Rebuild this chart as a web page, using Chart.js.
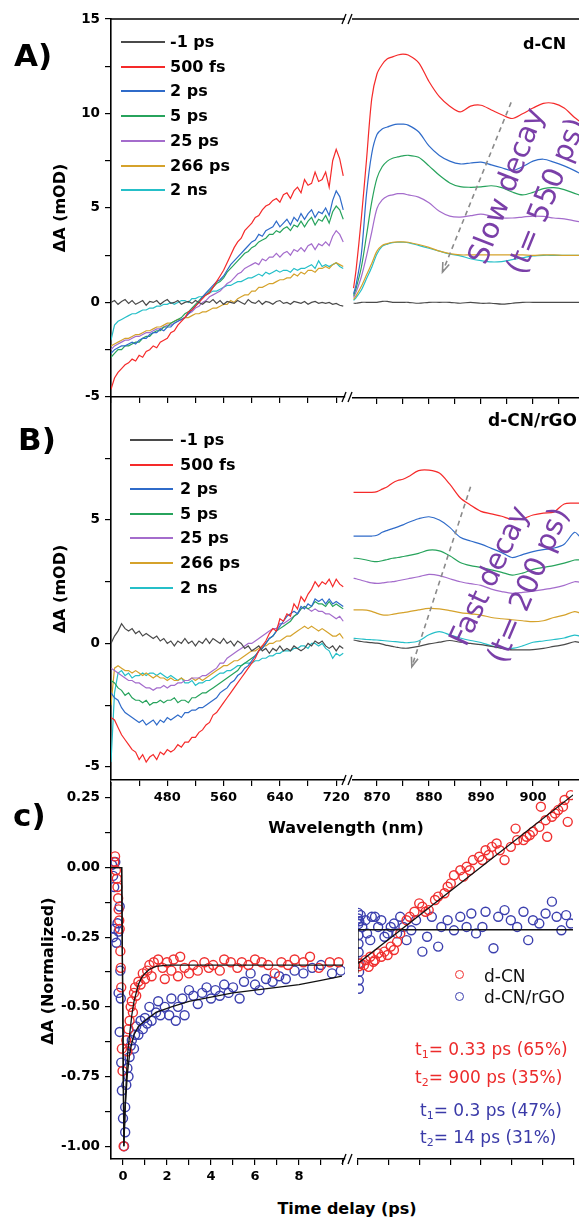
<!DOCTYPE html>
<html>
<head>
<meta charset="utf-8">
<title>Transient absorption spectra and kinetics</title>
<script src="https://cdn.jsdelivr.net/npm/chart.js@4.4.1/dist/chart.umd.min.js"></script>
<style>
  html, body { margin: 0; padding: 0; background: #fff; }
  body { position: relative; width: 579px; height: 1219px; overflow: hidden; font-family: 'DejaVu Sans', sans-serif; color: #000; }
  .pane { position: absolute; }
  .pane canvas { display: block; }
  .txt { position: absolute; white-space: nowrap; line-height: 1; }
  .bold { font-weight: bold; }
  .letter { font-size: 31px; font-weight: bold; }
  .legline { position: absolute; height: 2px; }
  .rot { position: absolute; white-space: nowrap; line-height: 1; color: #7a3fa8; font-size: 29px; }
  .mark { position: absolute; width: 7px; height: 7px; border-radius: 50%; border: 1.5px solid; }
  .note { font-size: 17px; }
  .note sub { font-size: 11px; vertical-align: -3px; line-height: 0; }
</style>
</head>
<body>
<div class="pane" style="left:0;top:0"><canvas id="aVis" width="360" height="410"></canvas></div>
<div class="pane" style="left:352px;top:0"><canvas id="aNir" width="227" height="410"></canvas></div>
<div class="pane" style="left:0;top:380px"><canvas id="bVis" width="360" height="430"></canvas></div>
<div class="pane" style="left:352px;top:380px"><canvas id="bNir" width="227" height="430"></canvas></div>
<div class="pane" style="left:0;top:770px"><canvas id="cFast" width="360" height="419"></canvas></div>
<div class="pane" style="left:352px;top:770px"><canvas id="cSlow" width="227" height="419"></canvas></div>

<div class="txt letter" style="left:14px;top:40px">A)</div>
<div class="txt letter" style="left:18px;top:424px">B)</div>
<div class="txt letter" style="left:13px;top:800px">c)</div>

<div class="txt bold" style="left:523px;top:36px;font-size:16px">d-CN</div>
<div class="txt bold" style="left:488px;top:412px;font-size:17px">d-CN/rGO</div>

<div class="rot" style="left:506px;top:186px;transform:translate(-50%,-50%) rotate(-69deg)">Slow decay</div>
<div class="rot" style="left:546px;top:196px;transform:translate(-50%,-50%) rotate(-68deg)">(t= 550 ps)</div>
<div class="rot" style="left:489px;top:576px;transform:translate(-50%,-50%) rotate(-65deg);letter-spacing:-0.5px">Fast decay</div>
<div class="rot" style="left:528px;top:585px;transform:translate(-50%,-50%) rotate(-67deg)">(t= 200 ps)</div>

<div class="txt bold" style="left:346px;top:820px;font-size:16px;transform:translateX(-50%)">Wavelength (nm)</div>
<div class="txt bold" style="left:347px;top:1201px;font-size:16px;transform:translateX(-50%)">Time delay (ps)</div>

<div class="mark" style="left:455px;top:970px;border-color:#f03030"></div>
<div class="mark" style="left:455px;top:992px;border-color:#3b3fae"></div>
<div class="txt" style="left:484px;top:968px;font-size:17px;color:#111">d-CN</div>
<div class="txt" style="left:484px;top:989px;font-size:17px;color:#111">d-CN/rGO</div>

<div class="txt note" style="left:415px;top:1041px;color:#ec2b2b">t<sub>1</sub>= 0.33 ps (65%)</div>
<div class="txt note" style="left:415px;top:1069px;color:#ec2b2b">t<sub>2</sub>= 900 ps (35%)</div>
<div class="txt note" style="left:420px;top:1102px;color:#3a3aa8">t<sub>1</sub>= 0.3 ps (47%)</div>
<div class="txt note" style="left:420px;top:1129px;color:#3a3aa8">t<sub>2</sub>= 14 ps (31%)</div>

<script>
// wavelength grids (nm) and axis labels
const WL_VIS = [400, 405, 410, 415, 420, 425, 430, 435, 440, 445, 450, 455, 460, 465, 470, 475, 480, 485, 490, 495,
    500, 505, 510, 515, 520, 525, 530, 535, 540, 545, 550, 555, 560, 565, 570, 575, 580, 585, 590, 595,
    600, 605, 610, 615, 620, 625, 630, 635, 640, 645, 650, 655, 660, 665, 670, 675, 680, 685, 690, 695,
    700, 705, 710, 715, 720, 725, 730];
const WL_NIR = [865.5, 866, 867, 868, 869, 870, 871, 872, 873, 874, 875, 876, 878, 880, 882, 884, 886, 888, 890, 892,
    894, 896, 898, 900, 902, 904, 906, 908, 909];
const WL_VIS_TICKS = [480, 560, 640, 720];
const WL_NIR_TICKS = [870, 880, 890, 900];
const TIME_FAST_TICKS = [0, 2, 4, 6, 8];
const TIME_SLOW_TICKS = [1500, 3000, 4500];
const MOD_TICKS = [-5, 0, 5, 10, 15];
const NORM_TICKS = [-1, -0.75, -0.5, -0.25, 0, 0.25];

const DELAYS = ['-1 ps', '500 fs', '2 ps', '5 ps', '25 ps', '266 ps', '2 ns'];
const DELAY_COLORS = ['#4a4a4a', '#f52a2a', '#2f6bc9', '#27a35c', '#a46ccc', '#d5a22b', '#25bfc8'];
const CN_COLOR = '#f03030';
const RGO_COLOR = '#3b3fae';

// panel A, d-CN, visible part (mOD)
const A_VIS_M1PS = [0.0, 0.1, -0.1, 0.05, 0.15, -0.05, 0.1, -0.1, 0.0, 0.1,
    -0.15, 0.05, 0.0, 0.1, -0.1, 0.05, 0.15, -0.05, 0.0, 0.1,
    -0.1, 0.0, 0.05, -0.05, 0.1, 0.0, -0.1, 0.05, 0.0, 0.15,
    -0.05, 0.1, -0.1, 0.05, 0.0, -0.05, 0.1, 0.0, -0.1, 0.15,
    0.0, -0.05, 0.1, -0.1, 0.05, 0.0, -0.1, 0.05, 0.1, -0.05,
    0.0, -0.1, 0.05, 0.0, -0.05, 0.05, -0.1, 0.0, 0.05, -0.05,
    0.0, -0.05, 0.0, -0.1, -0.05, -0.15, -0.2];
const A_VIS_500FS = [-4.6, -4.0, -3.7, -3.5, -3.3, -3.2, -3.0, -3.1, -2.8, -2.9,
    -2.6, -2.5, -2.3, -2.4, -2.1, -2.0, -1.9, -1.6, -1.5, -1.2,
    -1.0, -0.8, -0.5, -0.4, -0.2, 0.0, 0.2, 0.4, 0.5, 0.8,
    1.1, 1.4, 1.7, 2.1, 2.5, 2.9, 3.2, 3.4, 3.8, 4.0,
    4.2, 4.5, 4.6, 4.9, 5.1, 5.2, 5.4, 5.5, 5.3, 5.7,
    5.8, 5.5, 5.9, 6.1, 5.8, 6.5, 6.2, 6.3, 6.9, 6.4,
    6.5, 6.9, 6.1, 7.5, 8.1, 7.6, 6.7];
const A_VIS_2PS = [-2.7, -2.5, -2.4, -2.3, -2.3, -2.2, -2.1, -2.2, -2.0, -1.9,
    -1.9, -1.7, -1.6, -1.6, -1.4, -1.5, -1.3, -1.3, -1.1, -1.0,
    -0.9, -0.8, -0.6, -0.4, -0.2, 0.0, 0.3, 0.5, 0.7, 0.9,
    1.1, 1.2, 1.4, 1.7, 2.0, 2.2, 2.4, 2.6, 2.8, 3.0,
    3.2, 3.3, 3.6, 3.5, 3.8, 3.9, 4.0, 4.3, 4.0, 4.2,
    4.4, 4.1, 4.5, 4.3, 4.7, 4.4, 4.7, 4.9, 4.5, 4.8,
    4.7, 5.0, 4.6, 5.4, 5.9, 5.6, 4.9];
const A_VIS_5PS = [-2.9, -2.7, -2.5, -2.5, -2.3, -2.3, -2.2, -2.1, -2.1, -1.9,
    -1.8, -1.8, -1.6, -1.5, -1.5, -1.3, -1.3, -1.1, -1.0, -0.9,
    -0.8, -0.6, -0.5, -0.3, -0.1, 0.1, 0.3, 0.4, 0.6, 0.8,
    1.0, 1.1, 1.3, 1.6, 1.8, 2.0, 2.2, 2.4, 2.6, 2.7,
    2.9, 3.0, 3.2, 3.3, 3.4, 3.6, 3.6, 3.8, 3.7, 3.9,
    4.0, 3.8, 4.1, 4.0, 4.3, 4.0, 4.3, 4.5, 4.1, 4.4,
    4.3, 4.6, 4.2, 4.8, 5.1, 4.9, 4.4];
const A_VIS_25PS = [-2.5, -2.3, -2.2, -2.1, -2.0, -2.0, -1.9, -1.8, -1.8, -1.7,
    -1.6, -1.6, -1.5, -1.4, -1.4, -1.3, -1.2, -1.2, -1.1, -1.0,
    -0.9, -0.8, -0.6, -0.5, -0.3, -0.2, 0.0, 0.1, 0.3, 0.4,
    0.5, 0.6, 0.8, 1.0, 1.1, 1.3, 1.5, 1.6, 1.8, 1.9,
    2.0, 2.1, 2.0, 2.3, 2.2, 2.4, 2.4, 2.6, 2.4, 2.6,
    2.7, 2.5, 2.8, 2.7, 2.9, 2.7, 3.0, 3.1, 2.8, 3.1,
    3.0, 3.2, 3.0, 3.5, 3.8, 3.6, 3.2];
const A_VIS_266PS = [-2.3, -2.2, -2.1, -2.0, -1.9, -1.9, -1.8, -1.7, -1.7, -1.6,
    -1.5, -1.5, -1.4, -1.3, -1.3, -1.2, -1.1, -1.1, -1.0, -0.9,
    -0.9, -0.8, -0.8, -0.7, -0.6, -0.6, -0.5, -0.5, -0.4, -0.3,
    -0.3, -0.2, -0.1, -0.1, 0.1, 0.0, 0.2, 0.3, 0.4, 0.4,
    0.6, 0.6, 0.8, 0.8, 0.9, 1.0, 1.0, 1.1, 1.2, 1.2,
    1.3, 1.3, 1.5, 1.4, 1.6, 1.5, 1.7, 1.7, 1.6, 1.8,
    1.8, 1.9, 1.8, 2.0, 2.1, 2.0, 1.9];
const A_VIS_2NS = [-2.0, -1.2, -1.0, -0.9, -0.8, -0.7, -0.6, -0.6, -0.5, -0.4,
    -0.4, -0.3, -0.3, -0.2, -0.2, -0.1, -0.1, 0.0, -0.1, 0.0,
    0.1, 0.1, 0.0, 0.2, 0.2, 0.3, 0.3, 0.4, 0.5, 0.6,
    0.6, 0.7, 0.8, 0.9, 0.9, 1.0, 1.1, 1.1, 1.2, 1.3,
    1.3, 1.4, 1.5, 1.4, 1.6, 1.5, 1.6, 1.7, 1.6, 1.7,
    1.7, 1.6, 1.8, 1.7, 1.8, 1.8, 1.9, 2.0, 1.8, 2.2,
    1.9, 2.0, 1.9, 2.0, 2.1, 1.9, 1.8];

// panel A, d-CN, near-IR part (mOD)
const A_NIR_M1PS = [0.0, 0.0, 0.05, 0.05, 0.05, 0.05, 0.1, 0.1, 0.05, 0.05, 0.05, 0.05, 0.0, 0.05, 0.05,
    0.05, 0.0, 0.05, 0.0, 0.0, -0.05, 0.0, 0.05, 0.05, 0.05, 0.05, 0.05, 0.05, 0.05];
const A_NIR_500FS = [0.8, 1.8, 4.5, 7.6, 10.8, 12.1, 12.6, 12.9, 13.0, 13.1, 13.15, 13.1, 12.7, 11.7, 10.9,
    10.4, 10.1, 10.4, 10.45, 10.2, 9.95, 9.75, 10.0, 10.3, 10.55, 10.55, 10.3, 9.8, 9.6];
const A_NIR_2PS = [0.5, 1.0, 2.6, 5.8, 7.9, 8.9, 9.2, 9.3, 9.4, 9.45, 9.45, 9.4, 9.05, 8.3, 7.8,
    7.5, 7.35, 7.4, 7.45, 7.3, 7.15, 7.0, 7.2, 7.5, 7.6, 7.45, 7.25, 7.0, 6.85];
const A_NIR_5PS = [0.4, 0.8, 1.9, 3.6, 5.35, 6.6, 7.2, 7.5, 7.65, 7.72, 7.78, 7.81, 7.7, 7.25, 6.75,
    6.35, 6.15, 6.12, 6.14, 6.2, 6.1, 5.87, 5.72, 5.85, 6.05, 6.1, 6.0, 5.8, 5.7];
const A_NIR_25PS = [0.3, 0.6, 1.4, 2.5, 3.76, 5.0, 5.45, 5.65, 5.72, 5.78, 5.78, 5.72, 5.6, 5.3, 4.85,
    4.6, 4.55, 4.62, 4.7, 4.6, 4.5, 4.5, 4.55, 4.6, 4.58, 4.5, 4.45, 4.35, 4.3];
const A_NIR_266PS = [0.2, 0.4, 0.9, 1.5, 2.1, 2.75, 3.05, 3.15, 3.22, 3.24, 3.24, 3.22, 3.1, 2.95, 2.75,
    2.62, 2.55, 2.55, 2.55, 2.55, 2.55, 2.55, 2.55, 2.53, 2.55, 2.55, 2.53, 2.53, 2.53];
const A_NIR_2NS = [0.15, 0.3, 0.7, 1.3, 1.9, 2.6, 3.0, 3.12, 3.2, 3.22, 3.22, 3.2, 3.05, 2.9, 2.75,
    2.6, 2.5, 2.35, 2.25, 2.18, 2.2, 2.3, 2.4, 2.5, 2.53, 2.53, 2.53, 2.53, 2.53];

// panel B, d-CN/rGO, visible part (mOD)
const B_VIS_M1PS = [0.0, 0.3, 0.5, 0.8, 0.6, 0.5, 0.6, 0.4, 0.5, 0.3,
    0.4, 0.3, 0.2, 0.3, 0.1, 0.2, 0.0, 0.1, -0.1, 0.1,
    0.0, 0.2, 0.0, 0.1, -0.1, 0.1, 0.0, 0.2, 0.0, 0.2,
    0.1, 0.0, 0.2, 0.0, 0.1, -0.1, 0.1, 0.0, -0.2, -0.1,
    -0.3, -0.2, -0.1, -0.3, -0.2, -0.4, -0.2, -0.3, -0.1, -0.3,
    -0.2, -0.3, -0.1, -0.2, -0.3, -0.2, 0.0, -0.1, 0.1, 0.0,
    0.1, -0.1, -0.2, -0.1, -0.3, -0.1, -0.2];
const B_VIS_500FS = [-3.0, -3.1, -3.4, -3.7, -3.9, -4.1, -4.3, -4.4, -4.7, -4.5,
    -4.8, -4.6, -4.5, -4.7, -4.4, -4.5, -4.3, -4.4, -4.3, -4.1,
    -4.2, -4.0, -4.0, -3.8, -3.8, -3.6, -3.5, -3.3, -3.2, -2.9,
    -2.8, -2.6, -2.4, -2.2, -2.0, -1.8, -1.6, -1.4, -1.2, -1.0,
    -0.8, -0.6, -0.3, -0.1, 0.1, 0.4, 0.6, 0.5, 1.0, 0.9,
    1.2, 1.1, 1.6, 1.4, 1.9, 1.7, 2.0, 2.2, 2.5, 2.3,
    2.5, 2.4, 2.6, 2.3, 2.6, 2.4, 2.3];
const B_VIS_2PS = [-2.0, -2.2, -2.3, -2.6, -2.8, -2.9, -3.0, -3.1, -3.2, -3.1,
    -3.3, -3.2, -3.1, -3.3, -3.1, -3.2, -3.0, -3.1, -3.0, -2.9,
    -3.0, -2.8, -2.8, -2.7, -2.7, -2.6, -2.6, -2.5, -2.4, -2.3,
    -2.2, -2.0, -1.9, -1.8, -1.6, -1.5, -1.3, -1.2, -1.0, -0.9,
    -0.7, -0.5, -0.3, -0.2, 0.0, 0.2, 0.3, 0.5, 0.7, 0.9,
    1.1, 1.2, 1.3, 1.2, 1.5, 1.4, 1.6, 1.5, 1.8, 1.7,
    1.8, 1.6, 1.8, 1.6, 1.7, 1.6, 1.5];
const B_VIS_5PS = [-1.5, -1.6, -1.8, -1.9, -2.1, -2.0, -2.2, -2.3, -2.3, -2.4,
    -2.3, -2.5, -2.4, -2.4, -2.3, -2.4, -2.3, -2.3, -2.2, -2.4,
    -2.3, -2.3, -2.4, -2.2, -2.2, -2.1, -2.0, -2.0, -1.9, -1.8,
    -1.7, -1.6, -1.5, -1.4, -1.3, -1.2, -1.1, -0.9, -0.8, -0.7,
    -0.6, -0.5, -0.3, -0.2, 0.0, 0.2, 0.3, 0.5, 0.6, 0.7,
    0.8, 0.9, 1.1, 1.2, 1.4, 1.5, 1.4, 1.5, 1.7, 1.6,
    1.6, 1.5, 1.7, 1.5, 1.6, 1.5, 1.4];
const B_VIS_25PS = [-1.0, -1.1, -1.2, -1.3, -1.4, -1.5, -1.5, -1.6, -1.6, -1.7,
    -1.8, -1.8, -1.9, -1.8, -1.8, -1.7, -1.8, -1.7, -1.7, -1.6,
    -1.6, -1.5, -1.5, -1.4, -1.4, -1.4, -1.3, -1.3, -1.2, -1.1,
    -1.0, -0.8, -0.8, -0.6, -0.5, -0.4, -0.3, -0.2, -0.1, 0.0,
    0.0, 0.1, 0.2, 0.3, 0.4, 0.5, 0.6, 0.6, 0.8, 0.8,
    0.9, 1.0, 1.1, 1.2, 1.4, 1.5, 1.4, 1.3, 1.4, 1.3,
    1.3, 1.2, 1.2, 1.1, 1.0, 1.1, 0.9];
const B_VIS_266PS = [-2.5, -1.0, -0.9, -1.0, -1.1, -1.1, -1.2, -1.1, -1.2, -1.3,
    -1.2, -1.3, -1.4, -1.3, -1.4, -1.4, -1.5, -1.4, -1.5, -1.5,
    -1.4, -1.5, -1.5, -1.4, -1.5, -1.4, -1.5, -1.4, -1.3, -1.2,
    -1.1, -1.0, -0.9, -0.9, -0.8, -0.7, -0.7, -0.6, -0.5, -0.4,
    -0.3, -0.3, -0.2, -0.1, -0.1, 0.0, 0.0, 0.1, 0.1, 0.2,
    0.3, 0.3, 0.4, 0.5, 0.6, 0.7, 0.6, 0.7, 0.6, 0.5,
    0.6, 0.5, 0.4, 0.3, 0.3, 0.4, 0.2];
const B_VIS_2NS = [-4.8, -2.0, -1.2, -1.1, -1.3, -1.2, -1.4, -1.3, -1.3, -1.2,
    -1.3, -1.2, -1.2, -1.3, -1.2, -1.3, -1.4, -1.3, -1.4, -1.5,
    -1.4, -1.6, -1.6, -1.5, -1.7, -1.6, -1.6, -1.5, -1.5, -1.4,
    -1.3, -1.2, -1.2, -1.1, -1.1, -1.0, -0.9, -0.9, -0.8, -0.8,
    -0.8, -0.7, -0.7, -0.6, -0.6, -0.5, -0.5, -0.4, -0.4, -0.3,
    -0.3, -0.3, -0.2, -0.2, -0.1, -0.1, -0.2, 0.0, 0.0, -0.1,
    0.0, -0.2, -0.3, -0.6, -0.4, -0.5, -0.4];

// panel B, d-CN/rGO, near-IR part (mOD)
const B_NIR_M1PS = [0.14, 0.12, 0.08, 0.05, 0.03, 0.01, -0.03, -0.08, -0.12, -0.16, -0.19, -0.19, -0.12, -0.02, 0.05,
    0.12, 0.05, 0.0, -0.05, -0.12, -0.2, -0.26, -0.26, -0.25, -0.2, -0.12, -0.05, 0.07, 0.04];
const B_NIR_500FS = [6.12, 6.12, 6.12, 6.12, 6.12, 6.15, 6.25, 6.35, 6.5, 6.6, 6.65, 6.75, 7.0, 7.02, 6.9,
    6.45, 5.9, 5.6, 5.35, 5.25, 5.15, 5.02, 5.05, 5.2, 5.28, 5.32, 5.65, 5.68, 5.68];
const B_NIR_2PS = [4.35, 4.35, 4.35, 4.35, 4.35, 4.38, 4.5, 4.58, 4.65, 4.72, 4.8, 4.9, 5.05, 5.13, 5.0,
    4.7, 4.3, 4.15, 4.02, 3.85, 3.68, 3.48, 3.6, 3.72, 3.8, 3.86, 4.02, 4.5, 4.33];
const B_NIR_5PS = [3.45, 3.45, 3.42, 3.38, 3.33, 3.31, 3.35, 3.4, 3.45, 3.48, 3.52, 3.56, 3.65, 3.78, 3.75,
    3.55, 3.28, 3.15, 3.08, 2.98, 2.88, 2.77, 2.85, 3.0, 3.08, 3.15, 3.25, 3.38, 3.38];
const B_NIR_25PS = [2.64, 2.62, 2.56, 2.5, 2.45, 2.43, 2.45, 2.48, 2.5, 2.54, 2.58, 2.62, 2.7, 2.8, 2.75,
    2.62, 2.5, 2.42, 2.35, 2.2, 2.1, 2.03, 2.07, 2.12, 2.18, 2.25, 2.35, 2.5, 2.48];
const B_NIR_266PS = [1.36, 1.36, 1.36, 1.35, 1.3, 1.22, 1.16, 1.15, 1.18, 1.22, 1.25, 1.28, 1.36, 1.42, 1.4,
    1.33, 1.25, 1.2, 1.15, 1.05, 1.0, 0.96, 0.92, 0.88, 0.92, 1.05, 1.15, 1.29, 1.24];
const B_NIR_2NS = [0.21, 0.2, 0.18, 0.16, 0.15, 0.14, 0.12, 0.1, 0.08, 0.06, 0.04, 0.03, 0.1, 0.35, 0.48,
    0.35, 0.22, 0.12, 0.04, -0.1, -0.18, -0.2, -0.1, 0.05, 0.1, 0.16, 0.22, 0.34, 0.3];

// panel C, normalized kinetics: [delay (ps), dA]
const C_CN_FAST_PTS = [[-0.4, 0.02], [-0.36, 0.04], [-0.32, -0.01], [-0.28, -0.04], [-0.25, -0.07], [-0.22, -0.11],
    [-0.2, -0.15], [-0.17, -0.19], [-0.15, -0.22], [-0.12, -0.3], [-0.1, -0.36], [-0.08, -0.43], [-0.05, -0.65],
    [-0.02, -0.73], [0.03, -1.0], [0.15, -0.62], [0.2, -0.66], [0.25, -0.58], [0.3, -0.55], [0.35, -0.5],
    [0.4, -0.48], [0.45, -0.52], [0.5, -0.45], [0.55, -0.43], [0.6, -0.46], [0.7, -0.41], [0.8, -0.42],
    [0.9, -0.38], [1.0, -0.4], [1.1, -0.37], [1.2, -0.35], [1.3, -0.39], [1.4, -0.34], [1.6, -0.33],
    [1.8, -0.36], [1.9, -0.4], [2.0, -0.34], [2.2, -0.37], [2.3, -0.33], [2.5, -0.39], [2.6, -0.32],
    [2.8, -0.36], [3.0, -0.38], [3.2, -0.35], [3.4, -0.37], [3.7, -0.34], [3.9, -0.36], [4.1, -0.35],
    [4.4, -0.37], [4.6, -0.33], [4.9, -0.34], [5.2, -0.36], [5.4, -0.34], [5.7, -0.35], [6.0, -0.33],
    [6.3, -0.34], [6.6, -0.35], [6.9, -0.38], [7.2, -0.34], [7.5, -0.35], [7.8, -0.33], [8.2, -0.34],
    [8.5, -0.32], [8.9, -0.36], [9.4, -0.34], [9.8, -0.34]];
const C_RGO_FAST_PTS = [[-0.5, 0.01], [-0.45, -0.03], [-0.4, -0.07], [-0.35, 0.02], [-0.45, -0.25], [-0.38, -0.22],
    [-0.3, -0.27], [-0.25, -0.2], [-0.2, -0.23], [-0.15, -0.14], [-0.12, -0.37], [-0.1, -0.47], [-0.2, -0.45],
    [-0.15, -0.59], [-0.08, -0.7], [-0.05, -0.8], [0.0, -0.9], [0.05, -1.0], [0.1, -0.95], [0.1, -0.86],
    [0.15, -0.78], [0.2, -0.72], [0.25, -0.75], [0.3, -0.68], [0.35, -0.64], [0.4, -0.62], [0.5, -0.65],
    [0.55, -0.6], [0.6, -0.57], [0.7, -0.6], [0.8, -0.55], [0.9, -0.58], [1.0, -0.54], [1.1, -0.56],
    [1.2, -0.5], [1.3, -0.55], [1.5, -0.52], [1.6, -0.48], [1.7, -0.53], [1.9, -0.5], [2.1, -0.53],
    [2.2, -0.47], [2.4, -0.55], [2.5, -0.5], [2.7, -0.47], [2.8, -0.53], [3.0, -0.44], [3.2, -0.46],
    [3.4, -0.49], [3.6, -0.45], [3.8, -0.43], [4.0, -0.47], [4.2, -0.44], [4.4, -0.46], [4.6, -0.42],
    [4.8, -0.45], [5.0, -0.43], [5.3, -0.47], [5.5, -0.41], [5.8, -0.38], [6.0, -0.42], [6.2, -0.44],
    [6.5, -0.4], [6.8, -0.41], [7.1, -0.39], [7.4, -0.4], [7.8, -0.37], [8.2, -0.38], [8.6, -0.36],
    [9.0, -0.35], [9.5, -0.38], [9.9, -0.37]];
const C_CN_FAST_FIT = [[-0.545, 0], [-0.06, 0], [0.04, -1.0], [0.08, -0.9], [0.15, -0.76], [0.22, -0.66],
    [0.3, -0.6], [0.4, -0.53], [0.5, -0.48], [0.6, -0.45], [0.7, -0.42], [0.85, -0.395], [1.0, -0.38],
    [1.2, -0.365], [1.5, -0.355], [2.0, -0.35], [10.0, -0.35]];
const C_RGO_FAST_FIT = [[-0.545, 0], [-0.06, 0], [0.04, -1.0], [0.1, -0.86], [0.2, -0.74], [0.3, -0.67],
    [0.4, -0.63], [0.5, -0.6], [0.7, -0.57], [1.0, -0.55], [1.5, -0.52], [2.2, -0.5], [3.0, -0.48],
    [4.0, -0.465], [5.0, -0.45], [6.0, -0.44], [7.0, -0.43], [8.0, -0.42], [9.0, -0.405], [9.95, -0.39]];

const C_CN_SLOW_PTS = [[20, -0.36], [71, -0.35], [151, -0.356], [190, -0.338], [270, -0.362], [310, -0.326],
    [389, -0.344], [429, -0.338], [508, -0.314], [587, -0.326], [667, -0.308], [746, -0.32], [825, -0.29],
    [905, -0.302], [984, -0.273], [1063, -0.243], [1222, -0.196], [1302, -0.184], [1420, -0.166],
    [1540, -0.136], [1619, -0.148], [1698, -0.166], [1778, -0.16], [1937, -0.124], [2016, -0.112],
    [2175, -0.1], [2254, -0.077], [2333, -0.065], [2413, -0.036], [2572, -0.018], [2651, -0.041],
    [2730, -0.006], [2810, -0.018], [2889, 0.018], [3048, 0.03], [3127, 0.018], [3206, 0.053], [3286, 0.036],
    [3365, 0.065], [3484, 0.077], [3563, 0.053], [3683, 0.018], [3841, 0.065], [3960, 0.13], [4000, 0.089],
    [4159, 0.089], [4238, 0.101], [4317, 0.107], [4397, 0.119], [4556, 0.136], [4595, 0.208], [4714, 0.16],
    [4754, 0.101], [4873, 0.172], [4952, 0.184], [5032, 0.196], [5151, 0.208], [5190, 0.232], [5270, 0.154],
    [5349, 0.249]];
const C_RGO_SLOW_PTS = [[5, -0.17], [8, -0.19], [10, -0.21], [12, -0.25], [15, -0.28], [18, -0.31], [20, -0.35],
    [22, -0.41], [25, -0.44], [30, -0.38], [35, -0.2], [71, -0.178], [111, -0.22], [190, -0.196],
    [230, -0.243], [310, -0.267], [349, -0.184], [429, -0.184], [508, -0.22], [587, -0.196], [667, -0.255],
    [746, -0.243], [825, -0.22], [905, -0.208], [984, -0.243], [1063, -0.184], [1143, -0.22], [1222, -0.267],
    [1341, -0.232], [1460, -0.196], [1619, -0.308], [1738, -0.255], [1857, -0.184], [2016, -0.29],
    [2095, -0.22], [2254, -0.196], [2413, -0.232], [2572, -0.184], [2730, -0.22], [2849, -0.172],
    [2968, -0.243], [3127, -0.22], [3206, -0.166], [3405, -0.296], [3524, -0.184], [3683, -0.16],
    [3841, -0.196], [4000, -0.22], [4159, -0.166], [4278, -0.267], [4397, -0.196], [4556, -0.208],
    [4714, -0.172], [4873, -0.13], [4992, -0.184], [5111, -0.232], [5230, -0.178], [5349, -0.208]];
const C_CN_SLOW_FIT = [[0, -0.35], [5405, 0.25]];
const C_RGO_SLOW_FIT = [[0, -0.385], [3, -0.23], [5405, -0.23]];

Chart.defaults.font.family = "'DejaVu Sans', sans-serif";
Chart.defaults.color = '#000';

// frame lines the axes don't draw, plus the "//" break marks
const axisFrame = {
    id: 'axisFrame',
    afterDraw(chart, args, opts) {
        const { ctx, chartArea: a } = chart;
        ctx.save();
        ctx.strokeStyle = '#000';
        ctx.lineWidth = 1.6;
        if (opts.top) {
            ctx.beginPath();
            ctx.moveTo(a.left, a.top);
            ctx.lineTo(a.right, a.top);
            ctx.stroke();
        }
        (opts.breaks || []).forEach(edge => {
            const yy = edge === 'top' ? a.top : a.bottom;
            ctx.lineWidth = 1.3;
            [a.right - 1, a.right + 5].forEach(xx => {
                ctx.beginPath();
                ctx.moveTo(xx - 2, yy + 5);
                ctx.lineTo(xx + 2, yy - 5);
                ctx.stroke();
            });
        });
        ctx.restore();
    }
};

// dashed grey arrow given in data coordinates
const decayArrow = {
    id: 'decayArrow',
    afterDatasetsDraw(chart, args, opts) {
        if (!opts.from) return;
        const { ctx, scales: { x, y } } = chart;
        const x0 = x.getPixelForValue(opts.from[0]), y0 = y.getPixelForValue(opts.from[1]);
        const x1 = x.getPixelForValue(opts.to[0]), y1 = y.getPixelForValue(opts.to[1]);
        const ang = Math.atan2(y1 - y0, x1 - x0);
        ctx.save();
        ctx.strokeStyle = '#8a8a8a';
        ctx.lineWidth = 1.6;
        ctx.setLineDash([5, 4]);
        ctx.beginPath();
        ctx.moveTo(x0, y0);
        ctx.lineTo(x1, y1);
        ctx.stroke();
        ctx.setLineDash([]);
        ctx.beginPath();
        ctx.moveTo(x1 - 10 * Math.cos(ang - 0.35), y1 - 10 * Math.sin(ang - 0.35));
        ctx.lineTo(x1, y1);
        ctx.lineTo(x1 - 10 * Math.cos(ang + 0.35), y1 - 10 * Math.sin(ang + 0.35));
        ctx.stroke();
        ctx.restore();
    }
};

function spectra(wl, rows, tension) {
    return rows.map((vals, i) => ({
        label: DELAYS[i],
        data: wl.map((w, k) => ({ x: w, y: vals[k] })),
        borderColor: DELAY_COLORS[i],
        borderWidth: 1.2,
        pointRadius: 0,
        tension: tension,
        fill: false
    }));
}

function pts(pairs) {
    return pairs.map(p => ({ x: p[0], y: p[1] }));
}

function marks(label, pairs, color) {
    return {
        label: label,
        data: pts(pairs),
        showLine: false,
        pointStyle: 'circle',
        pointRadius: 4.5,
        pointBorderWidth: 1.4,
        pointBorderColor: color,
        pointBackgroundColor: 'rgba(0,0,0,0)',
        borderColor: color,
        order: 2
    };
}

function fit(pairs) {
    return {
        data: pts(pairs),
        showLine: true,
        borderColor: '#111',
        borderWidth: 1.3,
        pointRadius: 0,
        tension: 0,
        order: 0
    };
}

const isTick = (labels, v) => labels.some(l => Math.abs(l - v) < 1e-6);

function xAxis(min, max, step, labels, showLabels, height) {
    return {
        type: 'linear',
        min: min,
        max: max,
        afterFit: s => { s.height = height; },
        border: { display: true, color: '#000', width: 1.6 },
        grid: { drawOnChartArea: false, drawTicks: true, tickLength: 6, color: '#000', lineWidth: 1.2 },
        ticks: {
            display: showLabels,
            stepSize: step,
            includeBounds: false,
            autoSkip: false,
            maxRotation: 0,
            padding: 4,
            color: '#000',
            font: { size: 13, weight: 'bold' },
            callback: v => isTick(labels, v) ? String(v) : ''
        }
    };
}

function yAxis(min, max, step, labels, fmt, title, titleOffset) {
    return {
        type: 'linear',
        min: min,
        max: max,
        afterFit: s => { s.width = 111; },
        border: { display: true, color: '#000', width: 1.6 },
        grid: { drawOnChartArea: false, drawTicks: true, tickLength: 6, color: '#000', lineWidth: 1.2 },
        ticks: {
            stepSize: step,
            includeBounds: false,
            autoSkip: false,
            padding: 5,
            color: '#000',
            font: { size: 13.5, weight: 'bold' },
            callback: v => isTick(labels, v) ? fmt(v) : ''
        },
        title: {
            display: true,
            text: title,
            color: '#000',
            font: { size: 16, weight: 'bold' },
            padding: { top: titleOffset, bottom: 0 }
        }
    };
}

function hiddenY(min, max) {
    return { type: 'linear', min: min, max: max, display: false };
}

function draw(id, type, datasets, scales, padding, pluginOpts) {
    return new Chart(document.getElementById(id), {
        type: type,
        data: { datasets: datasets },
        options: {
            responsive: false,
            animation: false,
            devicePixelRatio: 1,
            events: [],
            layout: { padding: padding },
            plugins: Object.assign({ legend: { display: false }, tooltip: { enabled: false } }, pluginOpts),
            scales: scales
        },
        plugins: [axisFrame, decayArrow]
    });
}

function legend(x0, y0, gap, lineW, textX) {
    DELAYS.forEach((name, i) => {
        const y = y0 + i * gap;
        const line = document.createElement('div');
        line.className = 'legline';
        line.style.cssText = `left:${x0}px;top:${y - 1}px;width:${lineW}px;background:${DELAY_COLORS[i]}`;
        document.body.appendChild(line);
        const t = document.createElement('div');
        t.className = 'txt bold';
        t.style.cssText = `left:${textX}px;top:${y - 8}px;font-size:16px`;
        t.textContent = name;
        document.body.appendChild(t);
    });
}

const A_VIS = [A_VIS_M1PS, A_VIS_500FS, A_VIS_2PS, A_VIS_5PS, A_VIS_25PS, A_VIS_266PS, A_VIS_2NS];
const A_NIR = [A_NIR_M1PS, A_NIR_500FS, A_NIR_2PS, A_NIR_5PS, A_NIR_25PS, A_NIR_266PS, A_NIR_2NS];
const B_VIS = [B_VIS_M1PS, B_VIS_500FS, B_VIS_2PS, B_VIS_5PS, B_VIS_25PS, B_VIS_266PS, B_VIS_2NS];
const B_NIR = [B_NIR_M1PS, B_NIR_500FS, B_NIR_2PS, B_NIR_5PS, B_NIR_25PS, B_NIR_266PS, B_NIR_2NS];
const intLabel = v => String(v);

// A) d-CN
draw('aVis', 'line', spectra(WL_VIS, A_VIS, 0), {
    x: xAxis(400, 732.5, 40, WL_VIS_TICKS, false, 12),
    y: yAxis(-5, 15, 2.5, MOD_TICKS, intLabel, 'ΔA (mOD)', 51)
}, { top: 19, right: 15 }, { axisFrame: { top: true, breaks: ['top', 'bottom'] } });
draw('aNir', 'line', spectra(WL_NIR, A_NIR, 0.3), {
    x: xAxis(865.2, 908.85, 5, WL_NIR_TICKS, false, 12),
    y: hiddenY(-5, 15)
}, { top: 19 }, { axisFrame: { top: true }, decayArrow: { from: [895.8, 10.6], to: [882.6, 1.65] } });

// B) d-CN/rGO
draw('bVis', 'line', spectra(WL_VIS, B_VIS, 0), {
    x: xAxis(400, 732.5, 40, WL_VIS_TICKS, true, 30),
    y: yAxis(-5.53, 9.94, 2.5, MOD_TICKS, intLabel, 'ΔA (mOD)', 51)
}, { top: 18, right: 15 }, { axisFrame: { breaks: ['bottom'] } });
draw('bNir', 'line', spectra(WL_NIR, B_NIR, 0.3), {
    x: xAxis(865.2, 908.85, 5, WL_NIR_TICKS, true, 30),
    y: hiddenY(-5.53, 9.94)
}, { top: 18 }, { decayArrow: { from: [888, 6.35], to: [876.7, -0.94] } });

// c) kinetics
draw('cFast', 'scatter', [
    marks('d-CN', C_CN_FAST_PTS, CN_COLOR), marks('d-CN/rGO', C_RGO_FAST_PTS, RGO_COLOR),
    fit(C_CN_FAST_FIT), fit(C_RGO_FAST_FIT)
], {
    x: xAxis(-0.545, 10.09, 1, TIME_FAST_TICKS, true, 30),
    y: yAxis(-1.046, 0.303, 0.125, NORM_TICKS, v => v.toFixed(2), 'ΔA (Normalized)', 39)
}, { top: 10, right: 15 }, { axisFrame: { breaks: ['bottom'] } });
draw('cSlow', 'scatter', [
    marks('d-CN', C_CN_SLOW_PTS, CN_COLOR), marks('d-CN/rGO', C_RGO_SLOW_PTS, RGO_COLOR),
    fit(C_CN_SLOW_FIT), fit(C_RGO_SLOW_FIT)
], {
    x: xAxis(0, 5405, 750, TIME_SLOW_TICKS, true, 30),
    y: hiddenY(-1.046, 0.303)
}, { top: 10 }, {});

legend(121, 42, 24.7, 44, 170);
legend(130, 440, 24.6, 43, 180);
</script>
</body>
</html>
